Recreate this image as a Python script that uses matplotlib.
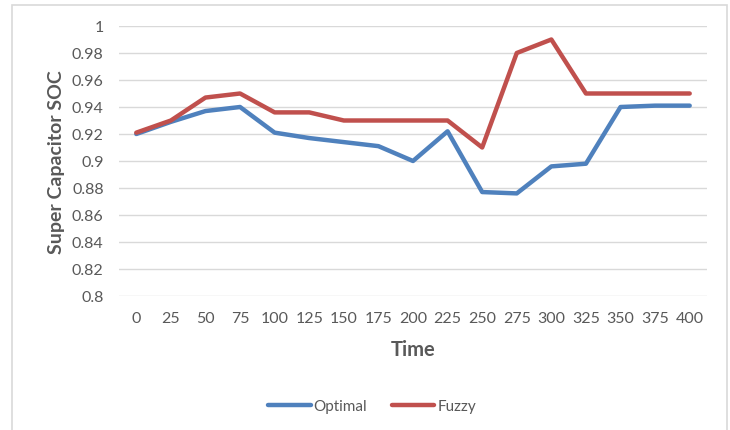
import matplotlib
matplotlib.use("Agg")
import matplotlib.pyplot as plt
from matplotlib.patches import Rectangle

# Data
time = [0, 25, 50, 75, 100, 125, 150, 175, 200, 225, 250, 275, 300, 325, 350, 375, 400]
optimal = [0.920, 0.929, 0.937, 0.940, 0.921, 0.917, 0.914, 0.911, 0.900, 0.922,
           0.877, 0.876, 0.896, 0.898, 0.940, 0.941, 0.941]
fuzzy = [0.921, 0.930, 0.947, 0.950, 0.936, 0.936, 0.930, 0.930, 0.930, 0.930,
         0.910, 0.980, 0.990, 0.950, 0.950, 0.950, 0.950]
y_ticks = [0.8, 0.82, 0.84, 0.86, 0.88, 0.9, 0.92, 0.94, 0.96, 0.98, 1.0]
y_tick_labels = ["0.8", "0.82", "0.84", "0.86", "0.88", "0.9", "0.92", "0.94", "0.96", "0.98", "1"]

plt.rcParams["font.family"] = ["Lato", "DejaVu Sans"]
text_color = "#595959"
grid_color = "#D9D9D9"

fig = plt.figure(figsize=(7.3, 4.31), dpi=100)
fig.patch.set_facecolor("white")

# Chart-area border
fig.patches.append(Rectangle((12 / 730, -0.02), 715 / 730, 1.02 - 6 / 431,
                             transform=fig.transFigure, fill=False,
                             edgecolor=grid_color, linewidth=1.2, clip_on=False))

ax = fig.add_axes([119 / 730, 1 - 297 / 431, (707 - 119) / 730, (297 - 27) / 431])
x = list(range(len(time)))
ax.plot(x, optimal, color="#4F81BD", linewidth=3.2, solid_capstyle="round",
        solid_joinstyle="round", label="Optimal", zorder=3)
ax.plot(x, fuzzy, color="#C0504D", linewidth=3.2, solid_capstyle="round",
        solid_joinstyle="round", label="Fuzzy", zorder=3)

ax.set_xlim(-0.5, len(time) - 0.5)
ax.set_ylim(0.8, 1.0)
ax.set_yticks(y_ticks)
ax.set_yticklabels(y_tick_labels)
ax.set_xticks(x)
ax.set_xticklabels([str(t) for t in time])
ax.grid(axis="y", color=grid_color, linewidth=1.0)
ax.set_axisbelow(True)
for s in ax.spines.values():
    s.set_visible(False)
ax.tick_params(axis="both", length=0, colors=text_color, labelsize=11.5)
ax.tick_params(axis="y", pad=11)
ax.tick_params(axis="x", pad=11)

ax.set_xlabel("Time", fontsize=14.5, fontweight="bold", color=text_color, labelpad=10)
ax.set_ylabel("Super Capacitor SOC", fontsize=14, fontweight="bold", color=text_color, labelpad=5)

leg = fig.legend(loc="center", bbox_to_anchor=(372 / 730, 1 - 407 / 431), ncol=2,
                 frameon=False, fontsize=11, handlelength=2.8, handletextpad=0.2,
                 columnspacing=1.6)
for t in leg.get_texts():
    t.set_color(text_color)

fig.savefig("out.png", dpi=100, facecolor="white")
